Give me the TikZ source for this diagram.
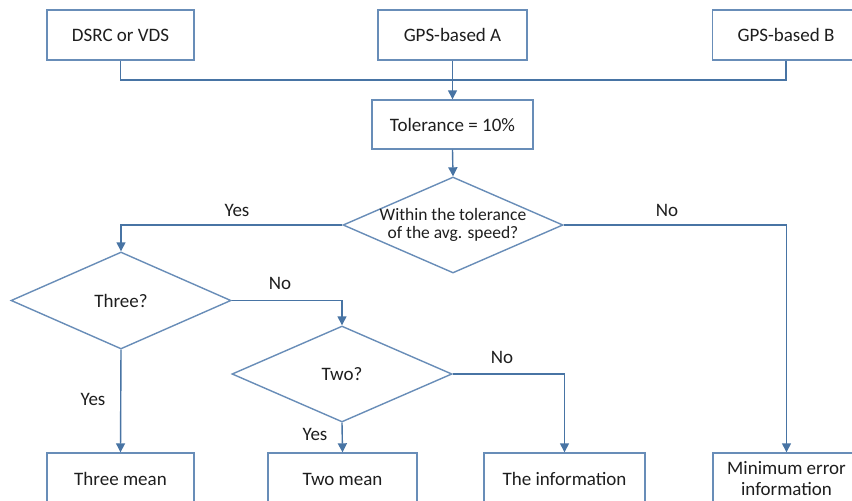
\documentclass[tikz,border=0pt]{standalone}
\usepackage{fontspec}
\setmainfont{Carlito}
\usetikzlibrary{shapes.geometric,arrows.meta}
\definecolor{boxline}{RGB}{104,141,184}
\definecolor{conn}{RGB}{72,116,164}
\definecolor{ink}{RGB}{30,30,30}
\tikzset{
  box/.style={draw=boxline, line width=1.4pt, rectangle, minimum width=147pt,
    minimum height=50pt, inner sep=0pt, align=center, text=ink},
  choice/.style={draw=boxline, line width=1.4pt, diamond, aspect=2.27,
    minimum width=220pt, minimum height=96pt, inner sep=0pt, align=center, text=ink},
  link/.style={draw=conn, line width=1.4pt},
  flow/.style={link, -{Triangle[length=9pt,width=9pt]}},
  tag/.style={text=ink, inner sep=0pt}
}
\begin{document}
\begin{tikzpicture}[x=1pt, y=-1pt, font=\fontsize{19}{21}\selectfont]
\useasboundingbox (0,0) rectangle (852,501);
\clip (0,0) rectangle (852,501);
\fill[white] (0,0) rectangle (852,501);

% sources
\node[box] (dsrc) at (120.5,35) {DSRC or VDS};
\node[box, minimum width=149pt] (gpsa) at (452.5,35) {GPS-based A};
\node[box] (gpsb) at (786,35) {GPS-based B};
\coordinate (join) at (453,80);

% tolerance step and main decision (negative inner sep keeps the diamond at its set size)
\node[box, minimum width=161pt, minimum height=49pt] (tol) at (452.5,124.5) {Tolerance = 10\%};
\node[choice, inner sep=-14pt, font=\fontsize{17.5}{18.5}\selectfont] (within) at (453,225)
  {Within the tolerance\\of the avg. speed?};

% nested decisions
\node[choice, minimum height=97pt] (three) at (121,300.5) {Three?};
\node[choice] (two) at (342,374) {Two?};

% results
\node[box, minimum height=52pt] (threemean) at (120.5,479) {Three mean};
\node[box, minimum width=149pt, minimum height=52pt] (twomean) at (342.5,479) {Two mean};
\node[box, minimum width=161pt, minimum height=52pt] (info) at (564.5,479) {The information};
\node[box, minimum height=52pt] (minerr) at (786.5,479) {Minimum error\\information};

% connectors
\draw[link] (dsrc.south) |- (join) -| (gpsb.south);
\draw[flow] (gpsa.south) -- (tol.north);
\draw[flow] (tol.south) -- (within.north);
\draw[flow] (within.west) -| (three.north);
\draw[flow] (within.east) -| (minerr.north);
\draw[flow] (three.east) -| (two.north);
\draw[flow] (three.south) -- (threemean.north);
\draw[flow] (two.south) -- (twomean.north);
\draw[flow] (two.east) -| (info.north);

% branch labels
\node[tag] (y1) at (237,210) {Yes};
\node[tag] (n1) at (667,210) {No};
\node[tag] (n2) at (280,283) {No};
\node[tag] (y2) at (93,399) {Yes};
\node[tag] (n3) at (502,357) {No};
\node[tag] (y3) at (315,434) {Yes};
\end{tikzpicture}
\end{document}
